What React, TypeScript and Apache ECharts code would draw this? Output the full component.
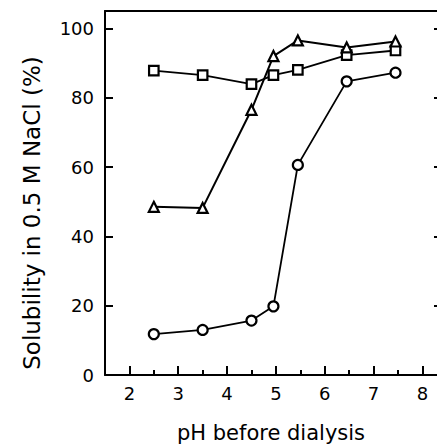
import React, { useEffect, useRef } from "react";
import * as echarts from "echarts";

const phValues = [2.5, 3.5, 4.5, 4.95, 5.45, 6.45, 7.45];
const squareValues = [87.8, 86.5, 83.9, 86.5, 88, 92.3, 93.6];
const triangleValues = [48.5, 48.2, 76.5, 92, 96.5, 94.5, 96.2];
const circleValues = [11.8, 13, 15.7, 19.8, 60.6, 84.7, 87.2];
const xMajorTicks = [2, 3, 4, 5, 6, 7, 8];
const xMinorTicks = [2.5, 3.5, 4.5, 5.5, 6.5, 7.5];
const yTicks = [0, 20, 40, 60, 80, 100];
const xTitle = "pH before dialysis";
const yTitle = "Solubility in 0.5 M NaCl (%)";

const FONT = "DejaVu Sans";

export default function App() {
  const ref = useRef<HTMLDivElement>(null);
  useEffect(() => {
    if (!ref.current) return;
    const chart = echarts.init(ref.current, null, { renderer: "svg" });
    const pair = (ys: number[]) => phValues.map((x, i) => [x, ys[i]]);
    const seriesStyle = (symbol: string, size: number, lw: number) => ({
      type: "line" as const,
      symbol,
      symbolSize: size,
      showAllSymbol: true,
      lineStyle: { color: "#000", width: lw },
      itemStyle: { color: "#fff", borderColor: "#000", borderWidth: 2.2 },
      z: 3,
    });
    chart.setOption({
      animation: false,
      backgroundColor: "#fff",
      grid: {
        left: 105,
        right: 0,
        top: 11,
        bottom: 69,
        containLabel: false,
        outerBoundsMode: "none",
      },
      graphic: [
        {
          type: "text",
          x: 32,
          y: 213,
          rotation: Math.PI / 2,
          style: {
            text: yTitle,
            fontFamily: FONT,
            fontSize: 23,
            fill: "#000",
            align: "center",
            verticalAlign: "middle",
          },
        },
      ],
      xAxis: [
        {
          type: "value",
          min: 1.5,
          max: 8.3,
          position: "bottom",
          name: xTitle,
          nameLocation: "middle",
          nameGap: 47,
          nameTextStyle: { fontFamily: FONT, fontSize: 21, color: "#000" },
          axisLine: { show: true, lineStyle: { color: "#000", width: 2 } },
          axisTick: {
            show: true,
            inside: true,
            length: 9,
            customValues: xMajorTicks,
            lineStyle: { color: "#000", width: 2 },
          },
          axisLabel: {
            customValues: xMajorTicks,
            fontFamily: FONT,
            fontSize: 18,
            color: "#000",
            margin: 9,
          },
          splitLine: { show: false },
        },
        {
          type: "value",
          min: 1.5,
          max: 8.3,
          position: "bottom",
          axisLine: { show: false },
          axisTick: {
            show: true,
            inside: true,
            length: 5,
            customValues: xMinorTicks,
            lineStyle: { color: "#000", width: 2 },
          },
          axisLabel: { show: false },
          splitLine: { show: false },
        },
        {
          type: "value",
          min: 1.5,
          max: 8.3,
          position: "top",
          axisLine: { show: true, lineStyle: { color: "#000", width: 2 } },
          axisTick: { show: false },
          axisLabel: { show: false },
          splitLine: { show: false },
        },
      ],
      yAxis: [
        {
          type: "value",
          min: 0,
          max: 105,
          position: "left",
          axisLine: { show: true, lineStyle: { color: "#000", width: 2 } },
          axisTick: {
            show: true,
            inside: true,
            length: 8,
            customValues: yTicks,
            lineStyle: { color: "#000", width: 2 },
          },
          axisLabel: {
            customValues: yTicks,
            fontFamily: FONT,
            fontSize: 18,
            color: "#000",
            margin: 11,
          },
          splitLine: { show: false },
        },
        {
          type: "value",
          min: 0,
          max: 105,
          position: "right",
          axisLine: { show: false },
          axisTick: {
            show: true,
            inside: true,
            length: 3,
            customValues: yTicks,
            lineStyle: { color: "#000", width: 2 },
          },
          axisLabel: { show: false },
          splitLine: { show: false },
        },
      ],
      series: [
        { ...seriesStyle("rect", 9.5, 1.8), data: pair(squareValues) },
        { ...seriesStyle("triangle", 10, 2), data: pair(triangleValues) },
        { ...seriesStyle("circle", 10, 1.8), data: pair(circleValues) },
      ],
    });
    return () => chart.dispose();
  }, []);
  return (
    <div
      ref={ref}
      style={{ position: "absolute", left: 0, top: 0, width: 437, height: 444 }}
    />
  );
}
